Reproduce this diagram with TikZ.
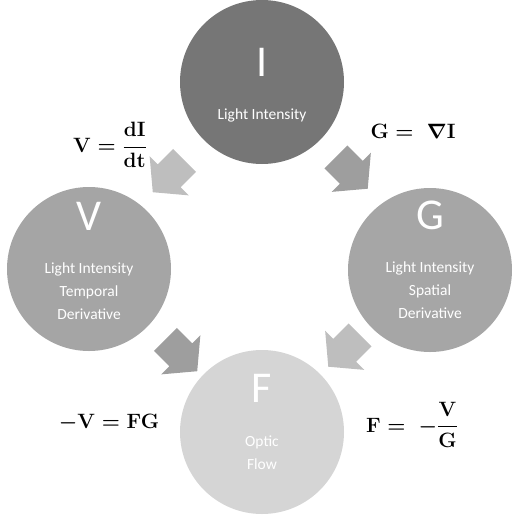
\documentclass[tikz,border=0pt]{standalone}
\usepackage{amsmath}
\usepackage{fontspec}
\newfontfamily\carlito{Carlito}
\usetikzlibrary{shapes.arrows,calc}

\definecolor{colI}{RGB}{118,118,118}
\definecolor{colV}{RGB}{165,165,165}
\definecolor{colG}{RGB}{166,166,166}
\definecolor{colF}{RGB}{213,213,213}
\definecolor{arrLight}{RGB}{190,190,190}
\definecolor{arrDark}{RGB}{158,158,158}

\begin{document}
\begin{tikzpicture}[x=1pt,y=-1pt]

		% Define styles
		\tikzstyle{circ} = [
		circle, minimum size=164pt, inner sep=0pt]
		\tikzstyle{letter} = [
		text=white, inner sep=0pt,
		font=\carlito\fontsize{44}{44}\selectfont]
		\tikzstyle{caption} = [
		text=white, align=center, inner sep=0pt,
		font=\carlito\fontsize{15.5}{23}\selectfont]
		\tikzstyle{eq} = [
		font=\fontsize{20}{24}\selectfont\boldmath]
		\tikzstyle{block} = [
		single arrow, inner xsep=0pt, inner ysep=16pt,
		minimum height=45pt,
		single arrow head extend=11.5pt, single arrow tip angle=100]

		\useasboundingbox (0,0) rectangle (520,515);

		% Nodes
		\node (I) [circ, fill=colI] at (262,82) {};
		\node (V) [circ, fill=colV] at (89,269) {};
		\node (G) [circ, fill=colG] at (430,270) {};
		\node (F) [circ, fill=colF] at (262,432) {};

		\node (Ilet) [letter] at ([yshift=20pt]I.center) {I};
		\node (Itxt) [caption] at ([yshift=-33pt]I.center) {Light Intensity};

		\node (Vlet) [letter] at ([yshift=53pt]V.center) {V};
		\node (Vtxt) [caption] at ([yshift=-22pt]V.center) {
			Light Intensity \\ Temporal \\ Derivative
		};

		\node (Glet) [letter] at ([yshift=55pt]G.center) {G};
		\node (Gtxt) [caption] at ([yshift=-20pt]G.center) {
			Light Intensity \\ Spatial \\ Derivative
		};

		\node (Flet) [letter] at ([yshift=44pt]F.center) {F};
		\node (Ftxt) [caption] at ([yshift=-21pt]F.center) {
			Optic \\ Flow
		};

		\node (eqV) [eq] at (110,145) {$\mathbf{V}=\dfrac{\mathbf{dI}}{\mathbf{dt}}$};
		\node (eqG) [eq] at (413,131) {$\mathbf{G}=\;\nabla\mathbf{I}$};
		\node (eqFG) [eq] at (109,423) {$-\mathbf{V}=\mathbf{FG}$};
		\node (eqF) [eq] at (412,425) {$\mathbf{F}=\;-\dfrac{\mathbf{V}}{\mathbf{G}}$};

		% Arrows
		\node (aIV) [block, fill=arrLight, rotate=-135] at ($(I)!0.5!(V)+(-2,-4)$) {};
		\node (aIG) [block, fill=arrDark, rotate=-45] at ($(I)!0.5!(G)+(1,-8)$) {};
		\node (aVF) [block, fill=arrDark, rotate=-45] at ($(V)!0.5!(F)+(1,0)$) {};
		\node (aGF) [block, fill=arrLight, rotate=-135] at ($(G)!0.5!(F)+(3,-5)$) {};
	\end{tikzpicture}
\end{document}
